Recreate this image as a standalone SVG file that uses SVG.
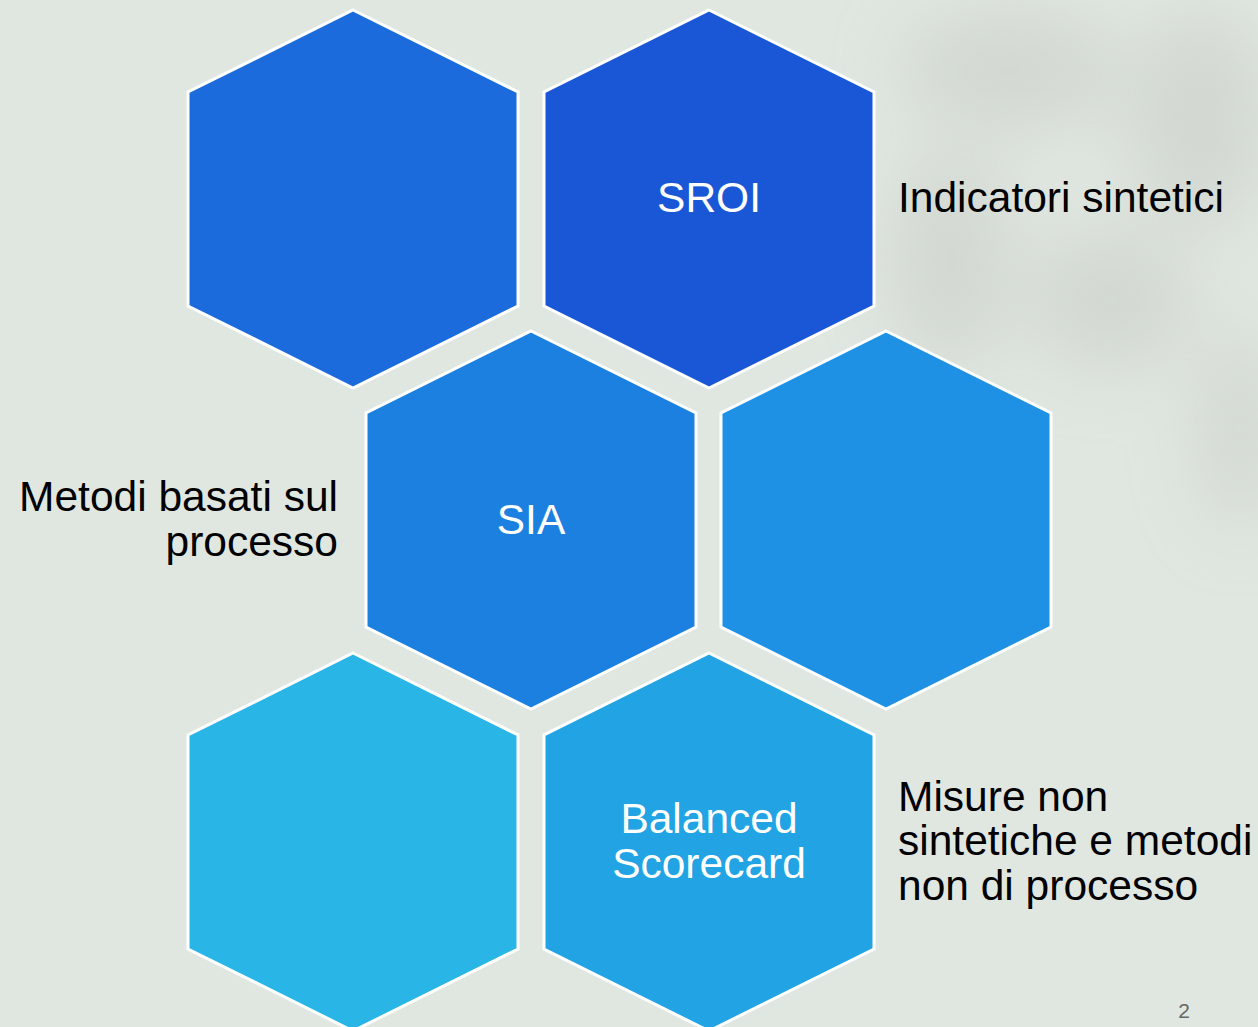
<svg xmlns="http://www.w3.org/2000/svg" xmlns:xlink="http://www.w3.org/1999/xlink" width="1258" height="1027" viewBox="0 0 1258 1027">
  <defs>
    <polygon id="hex" points="0,0 165,82 165,296 0,378 -165,296 -165,82"/>
    <filter id="blur" x="-50%" y="-50%" width="200%" height="200%">
      <feGaussianBlur stdDeviation="35"/>
    </filter>
  </defs>
  <style>
    .hx { stroke: #ffffff; stroke-width: 3; stroke-linejoin: miter; }
    .lbl { font-family: "Liberation Sans", Arial, sans-serif; font-size: 42.5px; fill: #ffffff; text-anchor: middle; }
    .side { font-family: "Liberation Sans", Arial, sans-serif; font-size: 42.5px; fill: #000000; }
  </style>
  <rect x="0" y="0" width="1258" height="1027" fill="#e0e6e0"/>
  <g id="background-texture" filter="url(#blur)" fill="#c9cfc8" opacity="0.6">
    <ellipse cx="1010" cy="70" rx="110" ry="60"/>
    <ellipse cx="1200" cy="120" rx="70" ry="110"/>
    <ellipse cx="1110" cy="300" rx="80" ry="70"/>
    <ellipse cx="950" cy="260" rx="60" ry="110"/>
    <ellipse cx="1240" cy="430" rx="40" ry="100"/>
  </g>
  <g id="connectors"></g>
  <g id="node-hex1">
    <use xlink:href="#hex" href="#hex" class="hx" fill="#1b6bdc" transform="translate(353,10)"/>
  </g>
  <g id="node-sroi">
    <use xlink:href="#hex" href="#hex" class="hx" fill="#1a57d6" transform="translate(709,10)"/>
    <text class="lbl" x="709" y="212">SROI</text>
  </g>
  <g id="node-sia">
    <use xlink:href="#hex" href="#hex" class="hx" fill="#1c80e1" transform="translate(531,331)"/>
    <text class="lbl" x="531" y="534">SIA</text>
  </g>
  <g id="node-hex4">
    <use xlink:href="#hex" href="#hex" class="hx" fill="#1e91e5" transform="translate(886,331)"/>
  </g>
  <g id="node-hex5">
    <use xlink:href="#hex" href="#hex" class="hx" fill="#29b6e6" transform="translate(353,653)"/>
  </g>
  <g id="node-balanced">
    <use xlink:href="#hex" href="#hex" class="hx" fill="#22a4e4" transform="translate(709,653)"/>
    <text class="lbl" x="709" y="833">Balanced</text>
    <text class="lbl" x="709" y="878">Scorecard</text>
  </g>
  <g id="label-indicatori">
    <text class="side" x="898" y="212">Indicatori sintetici</text>
  </g>
  <g id="label-metodi">
    <text class="side" x="338" y="511" text-anchor="end">Metodi basati sul</text>
    <text class="side" x="338" y="556" text-anchor="end">processo</text>
  </g>
  <g id="label-misure">
    <text class="side" x="898" y="811">Misure non</text>
    <text class="side" x="898" y="855">sintetiche e metodi</text>
    <text class="side" x="898" y="900">non di processo</text>
  </g>
  <text x="1184" y="1018" font-family="Liberation Sans, Arial, sans-serif" font-size="21" fill="#666666" text-anchor="middle">2</text>
</svg>
